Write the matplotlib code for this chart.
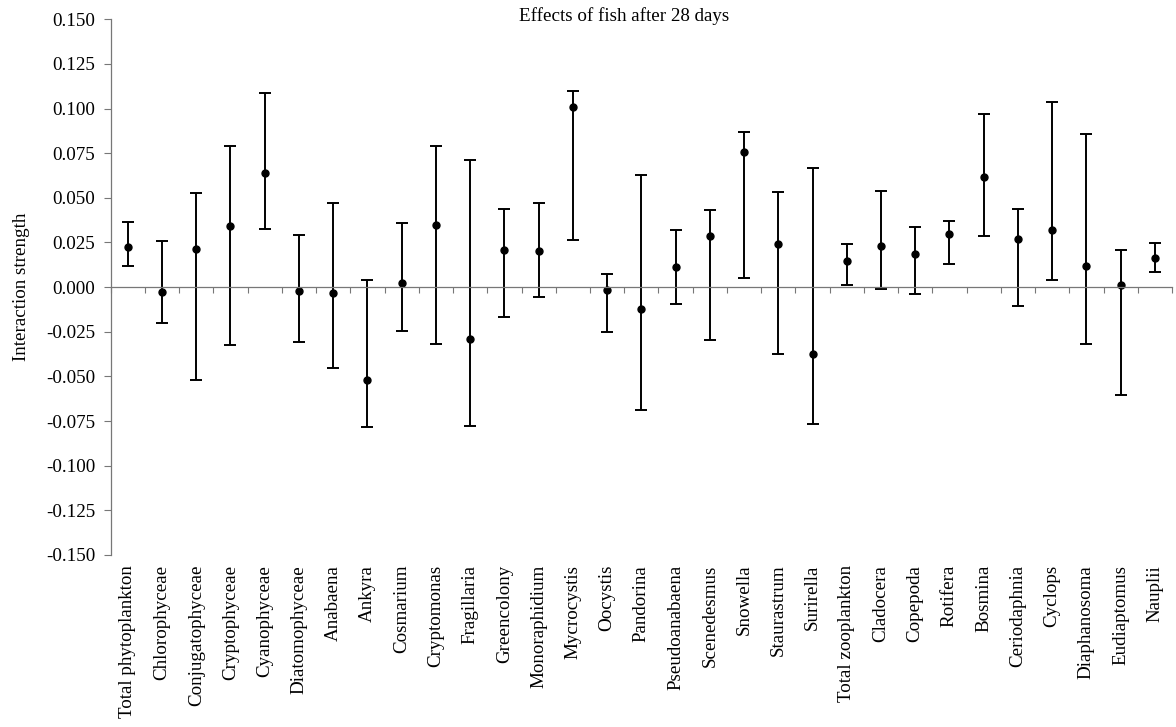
import matplotlib
matplotlib.use("Agg")
import matplotlib.pyplot as plt
import numpy as np

# categories and values
taxa = ["Total phytoplankton", "Chlorophyceae", "Conjugatophyceae", "Cryptophyceae",
        "Cyanophyceae", "Diatomophyceae", "Anabaena", "Ankyra", "Cosmarium",
        "Cryptomonas", "Fragillaria", "Greencolony", "Monoraphidium", "Mycrocystis",
        "Oocystis", "Pandorina", "Pseudoanabaena", "Scenedesmus", "Snowella",
        "Staurastrum", "Surirella", "Total zooplankton", "Cladocera", "Copepoda",
        "Rotifera", "Bosmina", "Ceriodaphnia", "Cyclops", "Diaphanosoma",
        "Eudiaptomus", "Nauplii"]

mean = [0.0226, -0.0026, 0.0211, 0.0342, 0.0638, -0.0019, -0.0032, -0.0522, 0.0024,
        0.0346, -0.0293, 0.0209, 0.0202, 0.1006, -0.0015, -0.0122, 0.0112, 0.0284,
        0.0754, 0.0241, -0.0374, 0.0144, 0.0232, 0.0187, 0.0299, 0.0615, 0.0269,
        0.0322, 0.0116, 0.0011, 0.0161]

upper = [0.0365, 0.0256, 0.0525, 0.0789, 0.1086, 0.0290, 0.0469, 0.0041, 0.0361,
         0.0790, 0.0714, 0.0439, 0.0471, 0.1096, 0.0071, 0.0628, 0.0320, 0.0434,
         0.0869, 0.0531, 0.0668, 0.0239, 0.0538, 0.0337, 0.0372, 0.0967, 0.0439,
         0.1034, 0.0858, 0.0208, 0.0245]

lower = [0.0118, -0.0200, -0.0522, -0.0323, 0.0327, -0.0309, -0.0454, -0.0784, -0.0247,
         -0.0320, -0.0775, -0.0165, -0.0054, 0.0262, -0.0249, -0.0687, -0.0097, -0.0297,
         0.0052, -0.0373, -0.0767, 0.0014, -0.0013, -0.0039, 0.0127, 0.0284, -0.0103,
         0.0041, -0.0318, -0.0603, 0.0082]

yticks = [-0.150, -0.125, -0.100, -0.075, -0.050, -0.025, 0.000,
          0.025, 0.050, 0.075, 0.100, 0.125, 0.150]
yticklabels = ["-0.150", "-0.125", "-0.100", "-0.075", "-0.050", "-0.025", "0.000",
               "0.025", "0.050", "0.075", "0.100", "0.125", "0.150"]

plt.rcParams['font.family'] = ['Liberation Serif', 'DejaVu Serif']
fs = 13.7

x = np.arange(len(taxa))
mean = np.array(mean)
yerr = [mean - np.array(lower), np.array(upper) - mean]

fig = plt.figure(figsize=(11.76, 7.27), dpi=100)
ax = fig.add_axes([0.0941, 0.2366, 0.9025, 0.7369])

ax.errorbar(x, mean, yerr=yerr, fmt='o', color='black', ms=5, elinewidth=1.4,
            capsize=4.3, capthick=1.4)

ax.set_xlim(-0.5, len(taxa) - 0.5)
ax.set_ylim(-0.150, 0.150)
ax.set_yticks(yticks)
ax.set_yticklabels(yticklabels, fontsize=fs)

# x axis sits on zero, ticks between categories
ax.spines['top'].set_visible(False)
ax.spines['right'].set_visible(False)
ax.spines['bottom'].set_position(('data', 0))
ax.spines['bottom'].set_color('#777777')
ax.spines['bottom'].set_linewidth(0.9)
ax.spines['left'].set_color('#777777')
ax.spines['left'].set_linewidth(0.9)
ax.set_xticks(np.arange(-0.5, len(taxa), 1.0))
ax.set_xticklabels([])
ax.tick_params(axis='x', direction='out', length=4, color='#777777', width=0.8)
ax.tick_params(axis='y', direction='out', length=5, color='#777777', width=0.8, pad=6)

# category names below the plot
for i, name in enumerate(taxa):
    ax.text(i, -0.1555, name, rotation=90, ha='center', va='top', fontsize=fs,
            transform=ax.transData)

ax.set_ylabel("Interaction strength", fontsize=fs)
ax.yaxis.set_label_coords(-0.076, 0.5)
fig.text(0.5306, 0.978, "Effects of fish after 28 days", ha='center', va='center',
         fontsize=fs)

fig.savefig("out.png", dpi=100)
